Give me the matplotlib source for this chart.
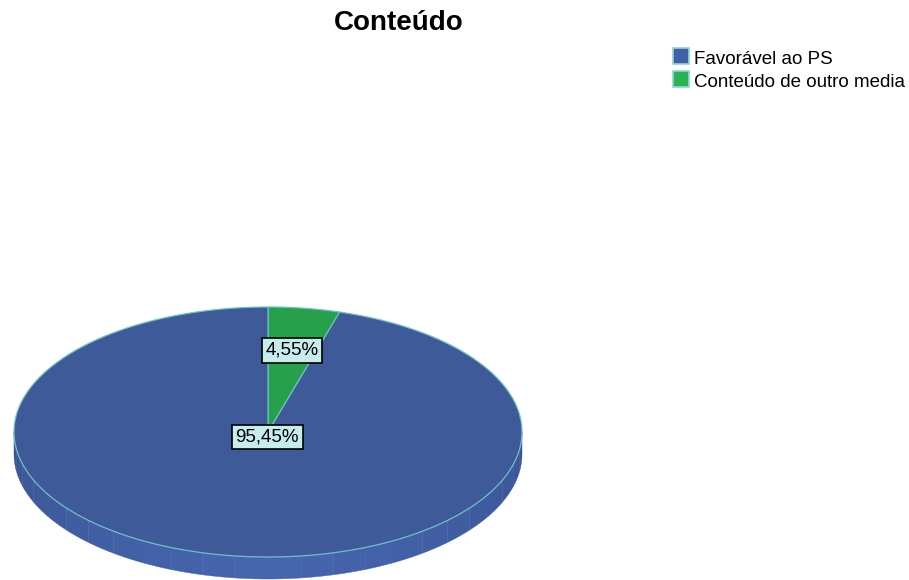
import numpy as np
import matplotlib.pyplot as plt

titulo = 'Conteúdo'
categorias = ['Favorável ao PS', 'Conteúdo de outro media']
percentagens = [95.45, 4.55]
rotulos = ['95,45%', '4,55%']
cores = ['#3f5a98', '#27a04b']
cores_legenda = ['#4261a9', '#2ab253']

fig = plt.figure(figsize=(9.09, 5.8), dpi=100)
ax = fig.add_axes([0, 0, 1, 1])
ax.set_xlim(0, 909)
ax.set_ylim(580, 0)
ax.axis('off')

# geometria do "pie" 3D (em pixeis)
cx, cy, rx, ry, prof = 268, 432, 254, 125, 22

def ponto(t, f=1.0, dy=0):
    t = np.radians(t)
    return cx + f * rx * np.cos(t), cy - f * ry * np.sin(t) + dy

# lateral (metade de baixo), em faixas para dar o efeito de sombra
n = 24
bordas = np.linspace(180, 360, n + 1)
for i in range(n):
    t = np.linspace(bordas[i], bordas[i + 1], 10)
    xs, ys = ponto(t)
    xb, yb = ponto(t[::-1], dy=prof)
    k = 1 - abs((i + 0.5) / n - 0.5) * 2
    c = np.array([0x3a, 0x55, 0x95]) * (1 - k) + np.array([0x46, 0x66, 0xb0]) * k
    ax.fill(np.r_[xs, xb], np.r_[ys, yb], color=c / 255, lw=0.3, ec=c / 255)

# fatias do topo, a começar às 12h no sentido horário
inicio = 90
fatias = []
for p, cor in zip(percentagens[::-1], cores[::-1]):
    ang = p / 100 * 360
    t = np.linspace(inicio, inicio - ang, 200)
    xs, ys = ponto(t)
    ax.fill(np.r_[cx, xs, cx], np.r_[cy, ys, cy], color=cor, ec='#6cc0c4', lw=0.9, zorder=3)
    fatias.append(inicio - ang / 2)
    inicio -= ang

# rótulos
fonte = 'Liberation Sans'
caixa = dict(boxstyle='square,pad=0.2', fc='#c6ecec', ec='black', lw=1.2)
xg, yg = ponto(fatias[0], f=0.66)
ax.text(xg, yg, rotulos[1], fontsize=13.5, family=fonte, ha='center', va='center', bbox=caixa, zorder=5)
ax.text(cx - 1, cy + 5, rotulos[0], fontsize=13.5, family=fonte, ha='center', va='center', bbox=caixa, zorder=5)

# título
ax.text(398.5, 30, titulo, fontsize=20, weight='bold', family=fonte, ha='center', va='baseline')

# legenda
for i, (nome, cor) in enumerate(zip(categorias, cores_legenda)):
    base = 64 + i * 23
    ax.add_patch(plt.Rectangle((672.5, base - 16.5), 16.5, 16.5, fc=cor, ec='#8fd6d6', lw=1.2))
    ax.text(694, base, nome, fontsize=13.5, family=fonte, ha='left', va='baseline')

fig.savefig('out.png', dpi=100)
